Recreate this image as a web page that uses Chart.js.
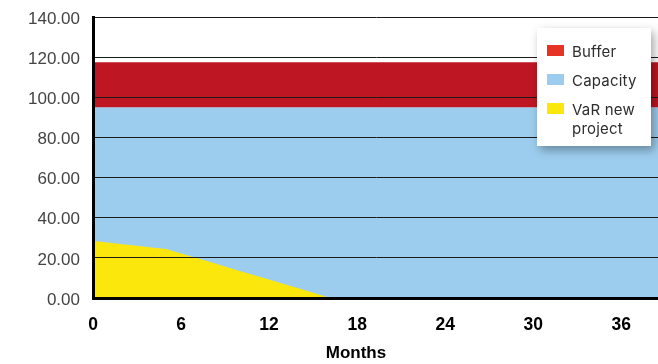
<!DOCTYPE html>
<html>
<head>
<meta charset="utf-8">
<script src="https://cdn.jsdelivr.net/npm/chart.js@4/dist/chart.umd.min.js"></script>
<style>
  html, body { margin: 0; padding: 0; background: #fff; overflow: hidden; }
  #wrap { position: relative; width: 658px; height: 364px; }
  #legend { position: absolute; left: 537px; top: 28px; width: 114px; height: 118px; background: #fff;
            box-shadow: 3px 4px 9px rgba(0,0,0,0.35); font-family: Inter, "Liberation Sans", Arial, sans-serif;
            font-size: 15px; letter-spacing: 0.2px; color: #2e2e2e; }
  .item { position: absolute; left: 10px; }
  .sw { position: absolute; left: 0; width: 17px; height: 11px; }
  .lbl { position: absolute; left: 25px; line-height: 19px; white-space: nowrap; }
  #xtitle { position: absolute; left: 356px; top: 343px; transform: translateX(-50%);
            font-family: "Liberation Sans", Arial, sans-serif; font-weight: bold; font-size: 17px; color: #000; }
</style>
</head>
<body>
<div id="wrap">
  <canvas id="c" width="658" height="364"></canvas>
  <div id="legend"></div>
  <div id="xtitle">Months</div>
</div>
<script>
// ---- data ----
const months = [0,1,2,3,4,5,6,7,8,9,10,11,12,13,14,15,16,17,18,19,20,21,22,23,24,25,26,27,28,29,30,31,32,33,34,35,36,37,38,39];
const capacity = months.map(() => 95);      // constant capacity level
const buffer = months.map(() => 22.5);      // constant buffer above capacity
const varNewProject = [28.4,27.6,26.8,26.0,25.2,24.4,22.2,20.0,17.9,15.7,13.5,11.3,9.2,7.0,4.8,2.6,0.4,0,0,0,0,0,0,0,0,0,0,0,0,0,0,0,0,0,0,0,0,0,0,0];
const xTickValues = [0,6,12,18,24,30,36];
const yTickValues = [0,20,40,60,80,100,120,140];
const seriesNames = ['Buffer','Capacity','VaR new\nproject'];

// ---- styles ----
const fillColors = ['#BE1622','#9DCDEE','#FCE70C'];
const swatchColors = ['#E63323','#9DCDEE','#FCE70C'];

const pts = (arr) => months.map((m, i) => ({x: m, y: arr[i]}));
const bufferTop = capacity.map((c, i) => c + buffer[i]);

new Chart(document.getElementById('c'), {
  type: 'line',
  data: {
    datasets: [
      { label: 'Buffer', data: pts(bufferTop), backgroundColor: fillColors[0], borderWidth: 0, pointRadius: 0, fill: 1, order: 2, tension: 0 },
      { label: 'Capacity', data: pts(capacity), backgroundColor: fillColors[1], borderWidth: 0, pointRadius: 0, fill: 'origin', order: 3, tension: 0 },
      { label: 'VaR new project', data: pts(varNewProject), backgroundColor: fillColors[2], borderWidth: 0, pointRadius: 0, fill: 'origin', order: 1, tension: 0 }
    ]
  },
  options: {
    responsive: false,
    animation: false,
    layout: { padding: { top: 17, right: 0, bottom: 0, left: 0 } },
    plugins: { legend: { display: false }, tooltip: { enabled: false } },
    scales: {
      x: {
        type: 'linear', min: 0, max: 38.5,
        afterBuildTicks: (s) => { s.ticks = xTickValues.map(v => ({value: v})); },
        afterFit: (s) => { s.height = 66; s.paddingRight = 0; },
        grid: { display: false, drawTicks: false },
        border: { display: true, color: '#000', width: 3, z: 3 },
        ticks: { padding: 17, color: '#000', font: { family: 'Liberation Sans', size: 17.5, weight: 'bold' } }
      },
      y: {
        min: 0, max: 140,
        afterBuildTicks: (s) => { s.ticks = yTickValues.map(v => ({value: v})); },
        afterFit: (s) => { s.width = 93; s.paddingTop = 0; s.paddingBottom = 0; },
        grid: { color: '#1a1a1a', lineWidth: 1, drawTicks: false, z: 1 },
        border: { display: true, color: '#000', width: 3, z: 3 },
        ticks: { padding: 13, labelOffset: 2, color: '#444', font: { family: 'Liberation Sans', size: 17 },
                 callback: (v) => Number(v).toFixed(2) }
      }
    }
  }
});

// ---- HTML legend ----
const lg = document.getElementById('legend');
const rowTops = [14, 43, 72];
seriesNames.forEach((name, i) => {
  const it = document.createElement('div');
  it.className = 'item';
  it.style.top = rowTops[i] + 'px';
  const sw = document.createElement('div');
  sw.className = 'sw';
  sw.style.background = swatchColors[i];
  sw.style.top = '3px';
  const lb = document.createElement('div');
  lb.className = 'lbl';
  lb.innerHTML = name.split('\n').join('<br>');
  it.appendChild(sw); it.appendChild(lb);
  lg.appendChild(it);
});
</script>
</body>
</html>
